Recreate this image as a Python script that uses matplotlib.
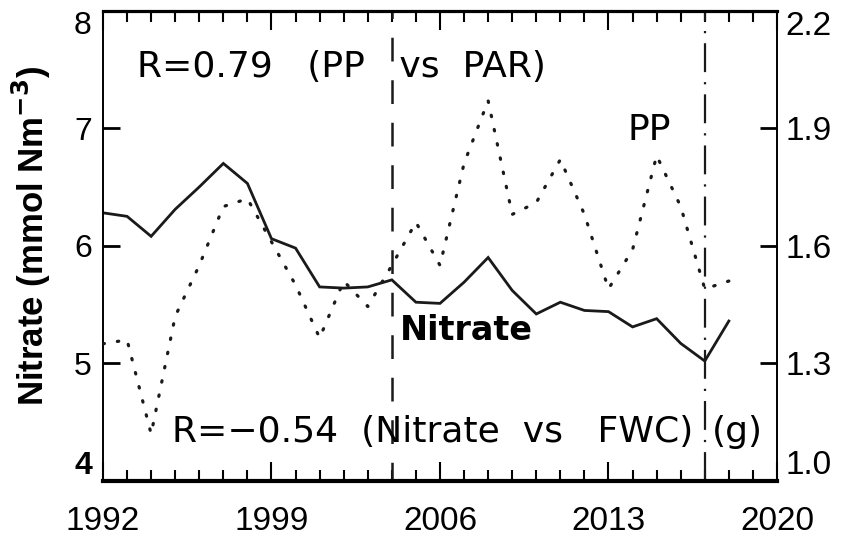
import numpy as np
import matplotlib.pyplot as plt
from matplotlib.ticker import MultipleLocator

plt.rcParams['font.family'] = ['Liberation Sans', 'DejaVu Sans']

years = np.arange(1992, 2019)
nitrate = [6.28, 6.25, 6.08, 6.31, 6.50, 6.70, 6.53, 6.06, 5.98, 5.65,
           5.64, 5.65, 5.71, 5.52, 5.51, 5.69, 5.90, 5.62, 5.42, 5.52,
           5.45, 5.44, 5.31, 5.38, 5.17, 5.02, 5.36]
pp = [1.35, 1.36, 1.12, 1.42, 1.55, 1.70, 1.72, 1.61, 1.50, 1.365,
      1.51, 1.445, 1.55, 1.66, 1.55, 1.81, 1.97, 1.68, 1.71, 1.82,
      1.68, 1.49, 1.59, 1.83, 1.70, 1.49, 1.51]

x_ticks = [1992, 1999, 2006, 2013, 2020]
left_ticks = [4, 5, 6, 7, 8]
right_ticks = [1.0, 1.3, 1.6, 1.9, 2.2]

fig = plt.figure(figsize=(8.42, 5.39), dpi=100)
ax = fig.add_axes([0.1223, 0.1076, 0.8005, 0.8729])
ax2 = ax.twinx()

ax.plot(years, nitrate, color='#1a1a1a', lw=2.0, solid_joinstyle='miter')
ax2.plot(years, pp, color='#1a1a1a', lw=2.3, linestyle=(0, (0.45, 4.1)),
         dash_capstyle='round')

# period markers
ax.axvline(2004, color='#1a1a1a', lw=1.8, linestyle=(2, (9.5, 7.5)))
ax.axvline(2017, color='#1a1a1a', lw=1.6, linestyle=(0, (13, 4.5, 1, 4.5)))

ax.set_xlim(1992, 2020)
ax.set_ylim(4, 8)
ax2.set_ylim(1.0, 2.2)

ax.set_xticks(x_ticks)
ax.set_xticklabels([str(v) for v in x_ticks], fontsize=24)
ax.xaxis.set_minor_locator(MultipleLocator(1))
ax.set_yticks(left_ticks)
ax.set_yticklabels([str(v) for v in left_ticks], fontsize=23)
ax2.set_yticks(right_ticks)
ax2.set_yticklabels([f'{v:.1f}' for v in right_ticks], fontsize=24)

ax.tick_params(axis='x', which='major', direction='in', top=True,
               length=14, width=1.5, pad=18)
ax.tick_params(axis='x', which='minor', direction='in', top=True,
               length=8, width=1.5)
ax.tick_params(axis='y', direction='in', length=12, width=2, pad=8)
ax2.tick_params(axis='y', direction='in', length=12, width=2, pad=6)

# end labels sit inside the axis range
for labels in (ax.get_yticklabels(), ax2.get_yticklabels()):
    labels[0].set_va('bottom')
    labels[-1].set_va('top')
ax.get_yticklabels()[0].set_fontweight('bold')

# frame drawn once: top/bottom/left by ax, right by ax2
ax.spines['top'].set_linewidth(2.3)
ax.spines['bottom'].set_linewidth(3)
ax.spines['left'].set_linewidth(1.4)
ax.spines['right'].set_visible(False)
for side in ('top', 'bottom', 'left'):
    ax2.spines[side].set_visible(False)
ax2.spines['right'].set_linewidth(1.4)

ax.set_ylabel('Nitrate (mmol Nm$^{\\mathbf{-3}}$)', fontsize=25,
              fontweight='bold')
ax.yaxis.set_label_coords(-0.074, 0.52)

note = dict(fontsize=26, family=['DejaVu Sans'], va='baseline')
ax.text(1993.4, 7.434, 'R=0.79   (PP   vs  PAR)', **note)
ax2.text(2013.8, 1.8706, 'PP', **note)
ax.text(2004.35, 5.196, 'Nitrate', fontsize=24, fontweight='bold',
        family=['DejaVu Sans'], va='baseline')
ax.text(1994.85, 4.328, 'R=\u22120.54  (Nitrate  vs   FWC)', **note)
ax.text(2017.3, 4.328, '(g)', **note)

fig.savefig('out.png', dpi=100)
